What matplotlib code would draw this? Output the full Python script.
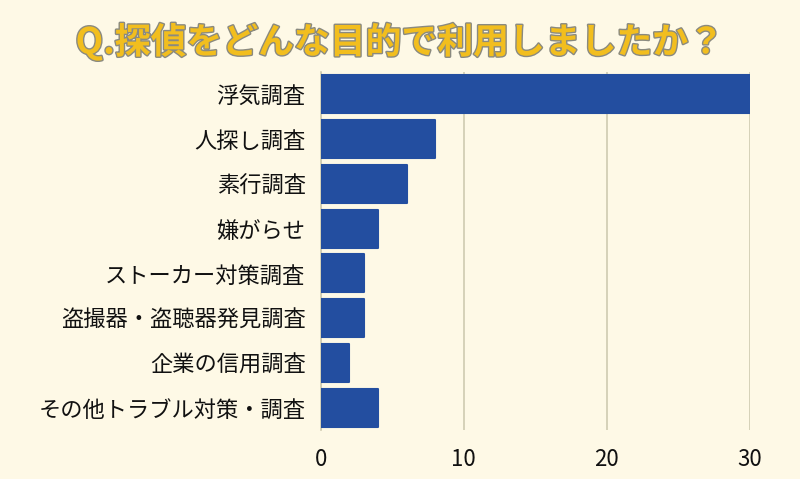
import matplotlib
matplotlib.use("Agg")
import matplotlib.pyplot as plt
import matplotlib.patheffects as pe

categories = ["浮気調査", "人探し調査", "素行調査", "嫌がらせ", "ストーカー対策調査",
              "盗撮器・盗聴器発見調査", "企業の信用調査", "その他トラブル対策・調査"]
values = [30, 8, 6, 4, 3, 3, 2, 4]
xticks = [0, 10, 20, 30]
title = "Q.探偵をどんな目的で利用しましたか？"

plt.rcParams['font.family'] = ['Noto Sans CJK JP', 'DejaVu Sans']
bg = "#FEF9E6"
fig = plt.figure(figsize=(8, 4.79), dpi=100, facecolor=bg)
ax = fig.add_axes([0.401, 0.102, 0.5365, 0.748], facecolor=bg)

y = list(range(len(categories)))
bars = ax.barh(y, values, height=0.85, color="#234EA0", edgecolor="#234EA0",
               linewidth=1.5, zorder=3)
for b in bars:
    b.set_joinstyle('round')
ax.set_ylim(len(categories) - 0.5, -0.5)
ax.set_xlim(0, 30)
ax.set_xticks(xticks)
ax.set_xticklabels([str(t) for t in xticks], fontsize=16)
ax.set_yticks(y)
ax.set_yticklabels(categories, fontsize=16)
ax.tick_params(axis='both', length=0, colors="#111111")
ax.tick_params(axis='x', pad=13)
ax.tick_params(axis='y', pad=11)
ax.grid(axis='x', color="#CFCBB0", linewidth=1.2, zorder=0)
for s in ["top", "right", "bottom"]:
    ax.spines[s].set_visible(False)
ax.spines["left"].set_color("#CFCBB0")
ax.spines["left"].set_linewidth(1.2)

fig.text(0.5, 0.912, title, ha='center', va='center', fontsize=25.8,
         fontweight='bold', color="#F2BE1E",
         path_effects=[pe.withStroke(linewidth=2, foreground="#8A8A80")])

fig.savefig("out.png", dpi=100, facecolor=bg)
